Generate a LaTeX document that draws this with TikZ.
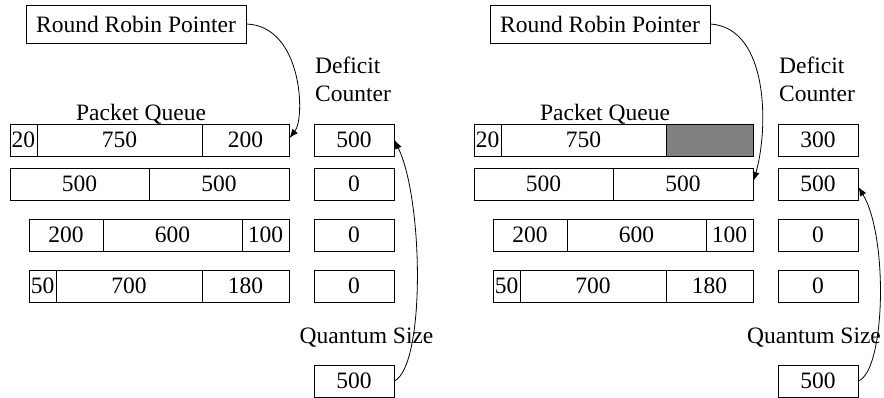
\documentclass[tikz,border=0pt]{standalone}
\usepackage{fontspec}
\setmainfont{Liberation Serif}
\usetikzlibrary{arrows.meta}
\begin{document}
\begin{tikzpicture}[x=1pt,y=-1pt,
  every node/.style={font=\fontsize{23.5}{28}\selectfont},
  cell/.style={draw,line width=0.9pt,rectangle,inner sep=0pt,minimum height=32pt},
  label/.style={inner sep=0pt},
  ptr/.style={line width=0.8pt,-{Latex[length=9pt,width=7pt]}},
  used/.style={cell,fill=black!50}]
\useasboundingbox (0,0) rectangle (884,398);

% ---------- before the round: pointer at queue 1 ----------
\begin{scope}
  \node[cell,minimum width=220,minimum height=38] (rr) at (136,24) {Round Robin Pointer};
  \node[label,anchor=base] (pq) at (141,121) {Packet Queue};
  \node[label,anchor=base west,align=left] (dc) at (315,102) {Deficit\\Counter};
  % queue 1
  \node[cell,minimum width=27]  (a11) at (23.5,140)  {20};
  \node[cell,minimum width=165] (a12) at (119.5,140) {750};
  \node[cell,minimum width=87]  (a13) at (245.5,140) {200};
  % queue 2
  \node[cell,minimum width=139] (a21) at (79.5,184) {500};
  \node[cell,minimum width=140] (a22) at (219,184)  {500};
  % queue 3
  \node[cell,minimum width=74]  (a31) at (66,235)    {200};
  \node[cell,minimum width=139] (a32) at (172.5,235) {600};
  \node[cell,minimum width=47]  (a33) at (265.5,235) {100};
  % queue 4
  \node[cell,minimum width=27]  (a41) at (42.5,286)  {50};
  \node[cell,minimum width=146] (a42) at (129,286)   {700};
  \node[cell,minimum width=87]  (a43) at (245.5,286) {180};
  % deficit counters
  \node[cell,minimum width=80] (ad1) at (354,140) {500};
  \node[cell,minimum width=80] (ad2) at (354,184) {0};
  \node[cell,minimum width=80] (ad3) at (354,235) {0};
  \node[cell,minimum width=80] (ad4) at (354,286) {0};
  % quantum
  \node[label,anchor=base] (qs) at (366.5,343) {Quantum Size};
  \node[cell,minimum width=80] (aq) at (354,381) {500};
  % pointers
  \draw[ptr] (rr.east) .. controls +(56,2) and +(16,-20) .. ([yshift=2pt]a13.east);
  \draw[ptr] (aq.east) .. controls +(31,-16) and +(29,60) .. (ad1.east);
\end{scope}

% ---------- after serving queue 1: pointer at queue 2 ----------
\begin{scope}[xshift=464pt]
  \node[cell,minimum width=220,minimum height=38] (rrb) at (136,24) {Round Robin Pointer};
  \node[label,anchor=base] (pqb) at (141,121) {Packet Queue};
  \node[label,anchor=base west,align=left] (dcb) at (315,102) {Deficit\\Counter};
  % queue 1 (200-byte packet sent)
  \node[cell,minimum width=27]  (b11) at (23.5,140)  {20};
  \node[cell,minimum width=165] (b12) at (119.5,140) {750};
  \node[used,minimum width=87]  (b13) at (245.5,140) {};
  % queue 2
  \node[cell,minimum width=139] (b21) at (79.5,184) {500};
  \node[cell,minimum width=140] (b22) at (219,184)  {500};
  % queue 3
  \node[cell,minimum width=74]  (b31) at (66,235)    {200};
  \node[cell,minimum width=139] (b32) at (172.5,235) {600};
  \node[cell,minimum width=47]  (b33) at (265.5,235) {100};
  % queue 4
  \node[cell,minimum width=27]  (b41) at (42.5,286)  {50};
  \node[cell,minimum width=146] (b42) at (129,286)   {700};
  \node[cell,minimum width=87]  (b43) at (245.5,286) {180};
  % deficit counters
  \node[cell,minimum width=80] (bd1) at (354,140) {300};
  \node[cell,minimum width=80] (bd2) at (354,184) {500};
  \node[cell,minimum width=80] (bd3) at (354,235) {0};
  \node[cell,minimum width=80] (bd4) at (354,286) {0};
  % quantum
  \node[label,anchor=base] (qsb) at (350,343) {Quantum Size};
  \node[cell,minimum width=80] (bq) at (354,381) {500};
  % pointers
  \draw[ptr] (rrb.east) .. controls +(59,4) and +(15,-51) .. ([yshift=3pt]b22.east);
  \draw[ptr] (bq.east) .. controls +(27,-11) and +(30,50) .. ([yshift=-3pt]bd2.east);
\end{scope}
\end{tikzpicture}
\end{document}
